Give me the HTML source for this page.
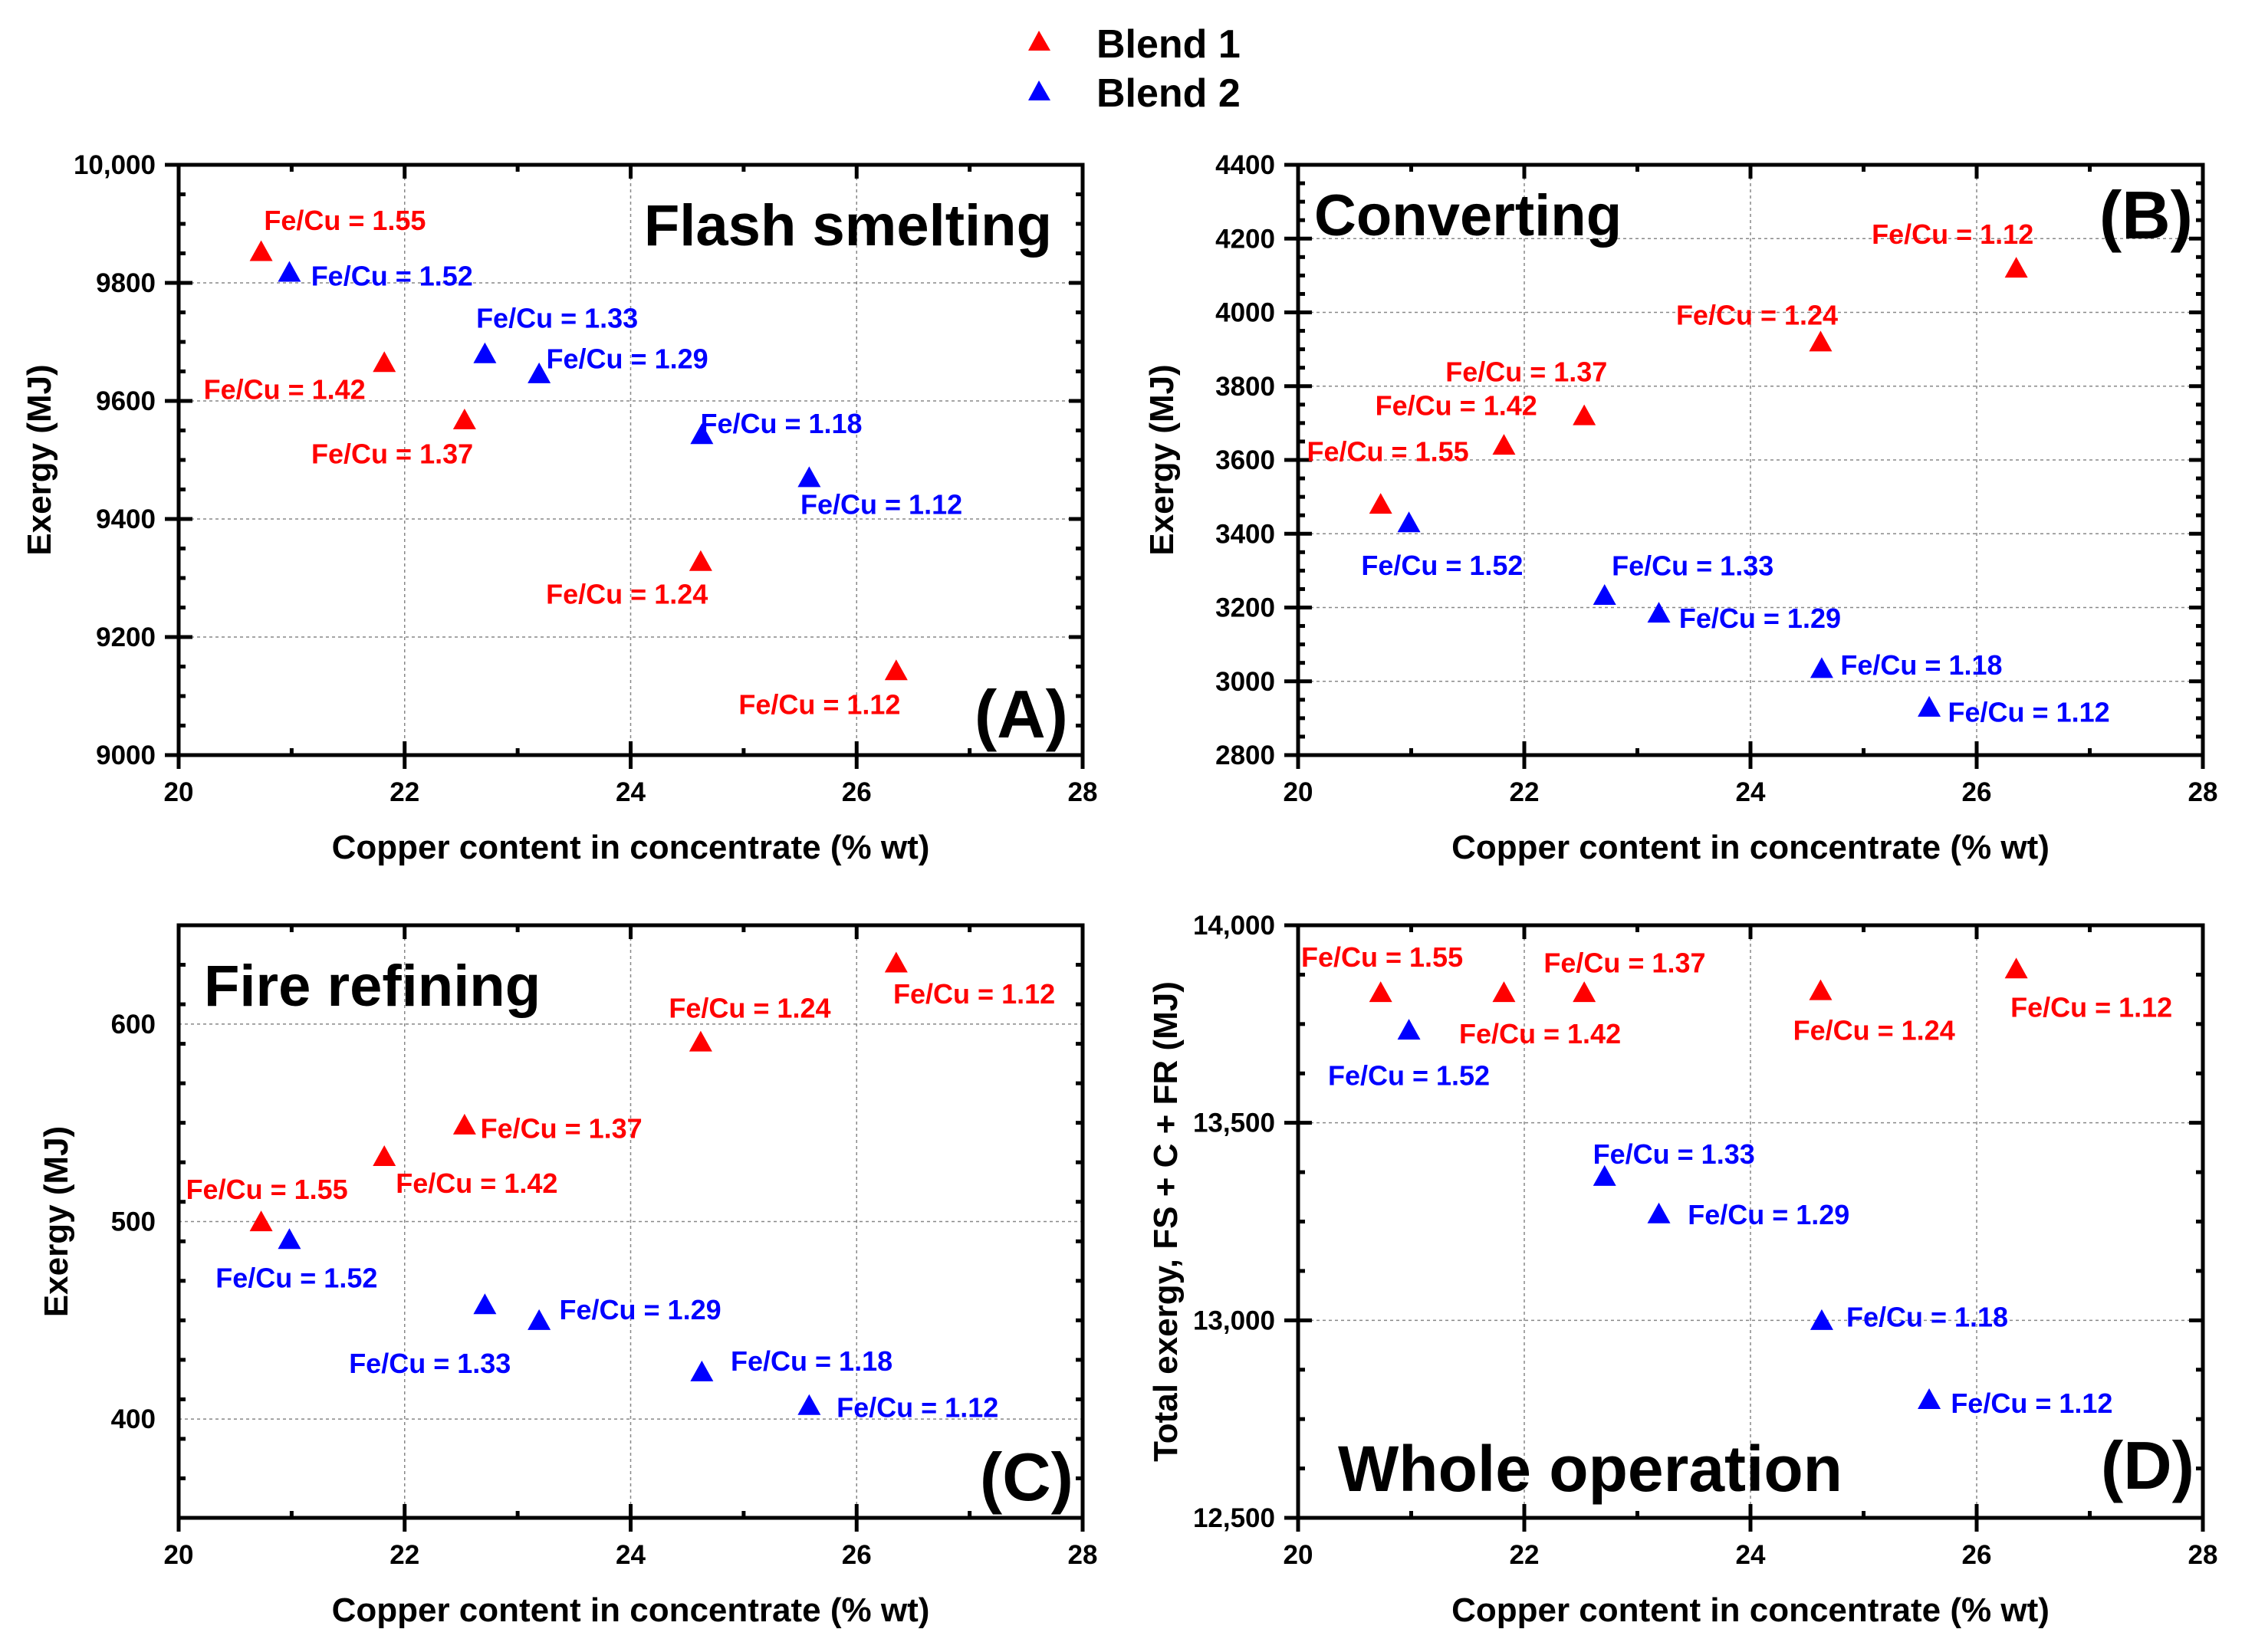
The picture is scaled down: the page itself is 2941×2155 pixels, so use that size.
<!DOCTYPE html>
<html><head><meta charset="utf-8">
<style>
html,body{margin:0;padding:0;background:#fff;}
svg{display:block;font-family:"Liberation Sans",Arial,sans-serif;font-weight:bold;}
</style></head>
<body>
<svg id="chart" width="2941" height="2155" viewBox="0 0 2941 2155" xmlns="http://www.w3.org/2000/svg">
  <g>
    <polygon points="1355,40 1370,66 1341,66" fill="#ff0000"/>
    <text x="1430" y="75" font-size="52">Blend 1</text>
    <polygon points="1355,105 1370,131 1341,131" fill="#0000ff"/>
    <text x="1430" y="139" font-size="52">Blend 2</text>
  </g>
</svg>
<script>
// Shared x data (copper content, % wt)
const xBlend1 = [20.73, 21.82, 22.53, 24.62, 26.35];
const xBlend2 = [20.98, 22.71, 23.19, 24.63, 25.58];
const feCu1 = ["1.55", "1.42", "1.37", "1.24", "1.12"];
const feCu2 = ["1.52", "1.33", "1.29", "1.18", "1.12"];
const xTicks = [20, 22, 24, 26, 28];

// Panel A: Flash smelting
const yA1 = [9850, 9662, 9565, 9325, 9140];
const yA2 = [9815, 9677, 9643, 9540, 9467];
const ticksA = [9000, 9200, 9400, 9600, 9800, 10000];
const tickLabelsA = ["9000", "9200", "9400", "9600", "9800", "10,000"];
// Panel B: Converting
const yB1 = [3475, 3635, 3715, 3915, 4115];
const yB2 = [3425, 3228, 3180, 3030, 2925];
const ticksB = [2800, 3000, 3200, 3400, 3600, 3800, 4000, 4200, 4400];
const tickLabelsB = ["2800", "3000", "3200", "3400", "3600", "3800", "4000", "4200", "4400"];
// Panel C: Fire refining
const yC1 = [499, 532, 548, 590, 630];
const yC2 = [490, 457, 449, 423, 406];
const ticksC = [400, 500, 600];
const tickLabelsC = ["400", "500", "600"];
// Panel D: Whole operation
const yD1 = [13825, 13825, 13825, 13830, 13885];
const yD2 = [13730, 13360, 13265, 12995, 12795];
const ticksD = [12500, 13000, 13500, 14000];
const tickLabelsD = ["12,500", "13,000", "13,500", "14,000"];

const SVGNS = "http://www.w3.org/2000/svg";
const svg = document.getElementById("chart");
const S = 1.885;
function mk(tag, attrs, parent) {
  const e = document.createElementNS(SVGNS, tag);
  for (const k in attrs) e.setAttribute(k, attrs[k]);
  parent.appendChild(e);
  return e;
}

const panels = [
  {id:"a", L:233, R:1412, T:215, B:985, yMin:9000, yMax:10000, minorY:50,
   ticks:ticksA, tlabels:tickLabelsA, y1:yA1, y2:yA2, yTitle:"Exergy (MJ)", yTitleX:66,
   title:"Flash smelting", tx:1372, ty:320, tAnchor:"end", letter:"(A)", lx:1393, ly:962,
   off1:[[2,-23],[-125,17],[-106,22],[-107,21],[-109,22]],
   off2:[[15,1],[-6,-26],[5,-12],[-1,-9],[-6,17]]},
  {id:"b", L:1693, R:2873, T:215, B:985, yMin:2800, yMax:4400, minorY:50,
   ticks:ticksB, tlabels:tickLabelsB, y1:yB1, y2:yB2, yTitle:"Exergy (MJ)", yTitleX:1530,
   title:"Converting", tx:1714, ty:307, tAnchor:"start", letter:"(B)", lx:2860, ly:311,
   off1:[[-51,-38],[-89,-29],[-96,-32],[-100,-20],[-100,-25]],
   off2:[[-33,28],[5,-22],[14,2],[13,-4],[13,2]]},
  {id:"c", L:233, R:1412, T:1207, B:1980, yMin:350, yMax:650, minorY:20,
   ticks:ticksC, tlabels:tickLabelsC, y1:yC1, y2:yC2, yTitle:"Exergy (MJ)", yTitleX:88,
   title:"Fire refining", tx:266, ty:1312, tAnchor:"start", letter:"(C)", lx:1400, ly:1957,
   off1:[[-52,-24],[8,17],[11,1],[-22,-25],[-2,20]],
   off2:[[-51,25],[-94,39],[14,-9],[20,-9],[19,0]]},
  {id:"d", L:1693, R:2873, T:1207, B:1980, yMin:12500, yMax:14000, minorY:125,
   ticks:ticksD, tlabels:tickLabelsD, y1:yD1, y2:yD2, yTitle:"Total exergy, FS + C + FR (MJ)", yTitleX:1535,
   title:"Whole operation", tx:1745, ty:1945, tAnchor:"start", titleSize:84, letter:"(D)", lx:2862, ly:1942,
   off1:[[-55,-26],[-31,27],[-28,-22],[-19,26],[-4,25]],
   off2:[[-56,30],[-8,-17],[20,-1],[17,-4],[15,1]]}
];

panels.forEach(p => {
  const g = mk("g", {}, svg);
  
  
  const xs = v => p.L + (v - 20) / 8 * (p.R - p.L);
  const ys = v => p.B - (v - p.yMin) / (p.yMax - p.yMin) * (p.B - p.T);

  xTicks.slice(1, -1).forEach(v => {
    const l = mk("line", {x1:xs(v), x2:xs(v), y1:p.T, y2:p.B, stroke:"#888", "stroke-width":1.5, "stroke-dasharray":"4,4"}, g);
    
    
  });
  p.ticks.forEach(v => {
    if (v === p.yMin || v === p.yMax) return;
    const l = mk("line", {x1:p.L, x2:p.R, y1:ys(v), y2:ys(v), stroke:"#888", "stroke-width":1.5, "stroke-dasharray":"4,4"}, g);
    
    
  });

  for (let v = 20; v <= 28; v += 1) {
    const x = xs(v);
    const maj = (v % 2 === 0);
    mk("line", {x1:x, x2:x, y1:p.B + (maj ? 18 : 0), y2:p.B - (maj ? 18 : 9), stroke:"#000", "stroke-width":5}, g);
    mk("line", {x1:x, x2:x, y1:p.T, y2:p.T + (maj ? 18 : 9), stroke:"#000", "stroke-width":5}, g);
  }
  for (let v = p.yMin; v <= p.yMax + 0.001; v += p.minorY) {
    const y = ys(v);
    const maj = p.ticks.indexOf(Math.round(v)) >= 0;
    mk("line", {x1:p.L - (maj ? 18 : 0), x2:p.L + (maj ? 18 : 9), y1:y, y2:y, stroke:"#000", "stroke-width":5}, g);
    mk("line", {x1:p.R - (maj ? 18 : 9), x2:p.R, y1:y, y2:y, stroke:"#000", "stroke-width":5}, g);
  }
  const frame = mk("rect", {x:p.L, y:p.T, width:p.R - p.L, height:p.B - p.T, fill:"none", stroke:"#000", "stroke-width":5}, g);
  
  

  xTicks.forEach(v => {
    const t = mk("text", {x:xs(v), y:p.B + 60, "font-size":35, "text-anchor":"middle"}, g);
    t.textContent = v;
    
    
  });
  p.ticks.forEach((v, i) => {
    const t = mk("text", {x:p.L - 30, y:ys(v) + 12, "font-size":35, "text-anchor":"end"}, g);
    t.textContent = p.tlabels[i];
    
    
  });

  const xt = mk("text", {x:(p.L + p.R) / 2, y:p.B + 135, "font-size":44, "text-anchor":"middle"}, g);
  xt.textContent = "Copper content in concentrate (% wt)";
  
  
  const cy = (p.T + p.B) / 2;
  const yt = mk("text", {x:p.yTitleX, y:cy, "font-size":44, "text-anchor":"middle", transform:"rotate(-90 " + p.yTitleX + " " + cy + ")"}, g);
  yt.textContent = p.yTitle;
  
  

  const pt = mk("text", {x:p.tx, y:p.ty, "font-size":p.titleSize || 76, "text-anchor":p.tAnchor}, g);
  pt.textContent = p.title;
  
  
  const pl = mk("text", {x:p.lx, y:p.ly, "font-size":88, "text-anchor":"end"}, g);
  pl.textContent = p.letter;
  
  

  [[xBlend1, p.y1, feCu1, p.off1, "#ff0000", "blend-1"], [xBlend2, p.y2, feCu2, p.off2, "#0000ff", "blend-2"]].forEach(ser => {
    const [xv, yv, lab, off, col, nm] = ser;
    xv.forEach((xx, i) => {
      const px = xs(xx), py = ys(yv[i]);
      const tri = mk("polygon", {points:`${px},${py - 17} ${px + 15},${py + 10} ${px - 15},${py + 10}`, fill:col}, g);
      
      
      const t = mk("text", {x:px + off[i][0] * S, y:py + off[i][1] * S + 13, "font-size":36, fill:col}, g);
      t.textContent = "Fe/Cu = " + lab[i];
      
      
    });
  });
});
</script>
</body></html>
